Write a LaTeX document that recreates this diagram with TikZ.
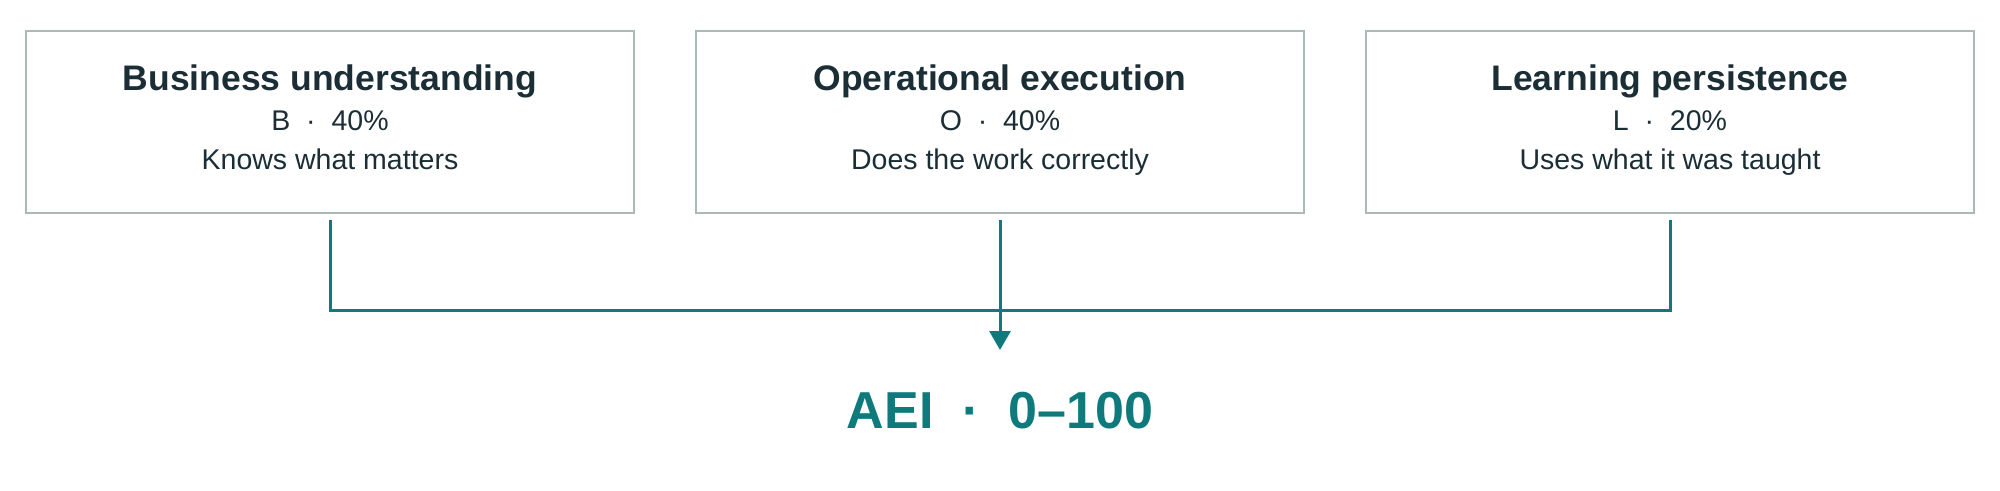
\documentclass[tikz,border=0pt]{standalone}
\usepackage{fontspec}
\setmainfont{Liberation Sans}
\usetikzlibrary{arrows.meta}
\definecolor{boxline}{HTML}{AABBB6}
\definecolor{teal}{HTML}{0E7A7B}
\definecolor{ink}{HTML}{1B2E36}
\tikzset{
  card/.style={draw=boxline, line width=2.6pt, fill=white, minimum width=608pt, minimum height=182pt, inner sep=0pt},
  ttl/.style={anchor=base, text=ink, font=\fontsize{35.5}{40}\selectfont\bfseries, inner sep=0pt},
  sub/.style={anchor=base, text=ink, font=\fontsize{28.5}{32}\selectfont, inner sep=0pt},
  conn/.style={draw=teal, line width=3pt},
  score/.style={anchor=base, text=teal, font=\fontsize{52}{60}\selectfont\bfseries, inner sep=0pt}
}
\begin{document}
\begin{tikzpicture}[x=1pt, y=-1pt]
\useasboundingbox (0,0) rectangle (2000,490);
\fill[white] (0,0) rectangle (2000,490);
% cards
\node[card] (b1) at (330,122) {};
\node[card] (b2) at (1000,122) {};
\node[card] (b3) at (1670,122) {};
\node[ttl] (b1t) at (330,90) {Business understanding};
\node[sub] (b1s) at (330,130) {B\ \ ·\ \ 40\%};
\node[sub] (b1d) at (330,169) {Knows what matters};
\node[ttl] (b2t) at (1000,90) {Operational execution};
\node[sub] (b2s) at (1000,130) {O\ \ ·\ \ 40\%};
\node[sub] (b2d) at (1000,169) {Does the work correctly};
\node[ttl] (b3t) at (1670,90) {Learning persistence};
\node[sub] (b3s) at (1670,130) {L\ \ ·\ \ 20\%};
\node[sub] (b3d) at (1670,169) {Uses what it was taught};
% result
\node[score] (aei) at (1000,428) {AEI\ \ ·\ \ 0–100};
\coordinate (hline) at (0,310.5);
\coordinate (tip) at (1000,350);
% connectors
\draw[conn, line join=miter] ([yshift=-6pt]b1.south) -- (b1.south |- hline) -- (b3.south |- hline) -- ([yshift=-6pt]b3.south);
\draw[conn, -{Triangle[length=19pt, width=21pt]}] ([yshift=-6pt]b2.south) -- (tip);
\end{tikzpicture}
\end{document}
